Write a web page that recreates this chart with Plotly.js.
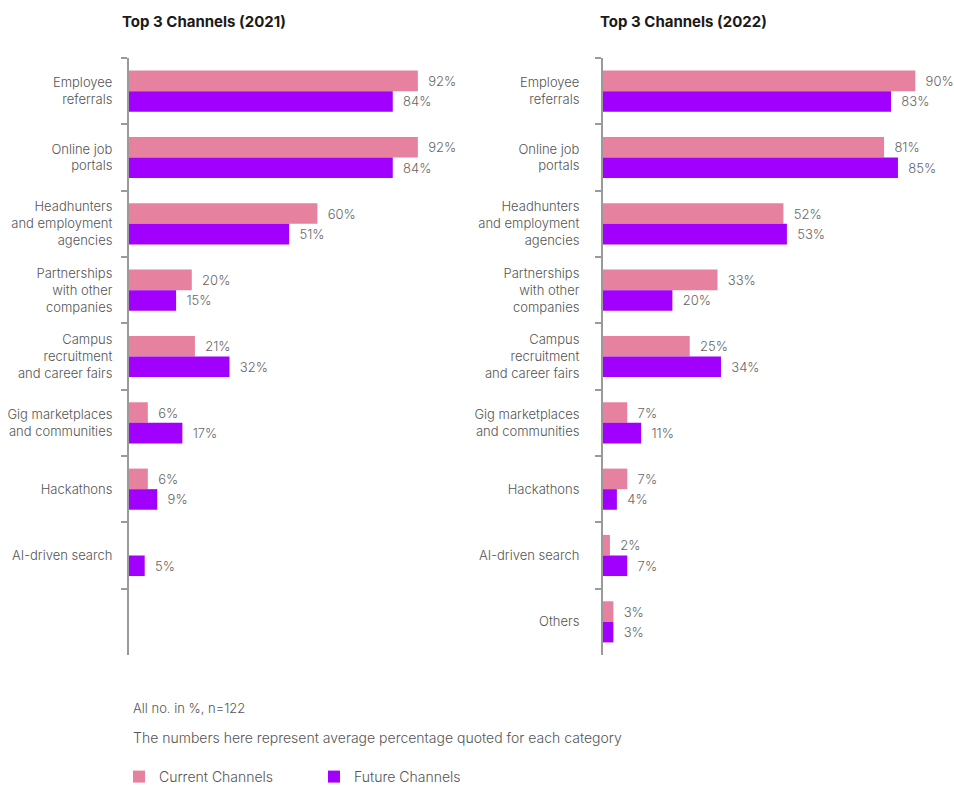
<!DOCTYPE html>
<html>
<head>
<meta charset="utf-8">
<script src="https://cdn.plot.ly/plotly-3.0.1.min.js"></script>
<style>html,body{margin:0;padding:0;background:#fff;}#chart{width:954px;height:785px;}</style>
</head>
<body>
<div id="chart"></div>
<script>
// ---- data ----
const categories2021 = [
  "Employee<br>referrals",
  "Online job<br>portals",
  "Headhunters<br>and employment<br>agencies",
  "Partnerships<br>with other<br>companies",
  "Campus<br>recruitment<br>and career fairs",
  "Gig marketplaces<br>and communities",
  "Hackathons",
  "AI-driven search"
];
const current2021 = [92, 92, 60, 20, 21, 6, 6, null];
const future2021  = [84, 84, 51, 15, 32, 17, 9, 5];

const categories2022 = [
  "Employee<br>referrals",
  "Online job<br>portals",
  "Headhunters<br>and employment<br>agencies",
  "Partnerships<br>with other<br>companies",
  "Campus<br>recruitment<br>and career fairs",
  "Gig marketplaces<br>and communities",
  "Hackathons",
  "AI-driven search",
  "Others"
];
const current2022 = [90, 81, 52, 33, 25, 7, 7, 2, 3];
const future2022  = [83, 85, 53, 20, 34, 11, 4, 7, 3];

const seriesNames = ["Current Channels", "Future Channels"];
const titles = ["Top 3 Channels (2021)", "Top 3 Channels (2022)"];
const notes = ["All no. in %, n=122", "The numbers here represent average percentage quoted for each category"];

// ---- styling ----
const PINK = "#e6829f";
const PURPLE = "#a100ff";
const FONT = "Inter, 'Open Sans', sans-serif";
const GREY = "#666666";

const W = 954, H = 785;
const M = {l: 0, r: 0, t: 58, b: 130};
const PH = H - M.t - M.b;

function bar(name, cats, vals, color, xa, ya, showlegend) {
  return {
    type: "bar", orientation: "h", name: name,
    y: cats, x: vals, xaxis: xa, yaxis: ya,
    marker: {color: color},
    texttemplate: "\u00a0\u00a0%{x}%",
    textposition: "outside",
    cliponaxis: false,
    textfont: {family: FONT, size: 13, color: GREY, weight: 300},
    showlegend: showlegend, legendgroup: name,
    hoverinfo: "skip"
  };
}

const data = [
  bar(seriesNames[0], categories2021, current2021, PINK, "x", "y", true),
  bar(seriesNames[1], categories2021, future2021, PURPLE, "x", "y", true),
  bar(seriesNames[0], categories2022, current2022, PINK, "x2", "y2", false),
  bar(seriesNames[1], categories2022, future2022, PURPLE, "x2", "y2", false)
];

function yax(cats, anchor, standoff) {
  return {
    type: "category", anchor: anchor,
    categoryorder: "array", categoryarray: cats,
    range: [8.5, -0.5],
    tickson: "boundaries", ticks: "outside", ticklen: 6, tickwidth: 2, tickcolor: "#9a9a9a",
    showline: true, linecolor: "#9a9a9a", linewidth: 2,
    showgrid: false, zeroline: false,
    ticklabelstandoff: standoff,
    tickfont: {family: FONT, size: 13, color: "#555555", weight: 300},
    fixedrange: true
  };
}

const layout = {
  width: W, height: H,
  margin: M,
  paper_bgcolor: "#fff", plot_bgcolor: "#fff",
  font: {family: FONT, color: GREY},
  barmode: "group", bargap: 0.38, bargroupgap: 0,
  xaxis:  {domain: [129 / W, 443 / W], range: [0, 100], visible: false, anchor: "y", fixedrange: true},
  xaxis2: {domain: [603 / W, 950 / W], range: [0, 100], visible: false, anchor: "y2", fixedrange: true},
  yaxis:  yax(categories2021.concat([" "]), "x", 12),
  yaxis2: yax(categories2022, "x2", 19),
  showlegend: true,
  legend: {
    orientation: "h", xref: "paper", x: 119 / W, xanchor: "left",
    yref: "container", y: 1 - 777 / H, yanchor: "middle",
    entrywidth: 150, traceorder: "normal",
    font: {family: FONT, size: 14, color: "#555555", weight: 300},
    bgcolor: "rgba(0,0,0,0)"
  },
  annotations: [
    {text: "<b>" + titles[0] + "</b>", xref: "paper", yref: "paper", x: 120 / W, y: 1 + (58 - 22) / PH,
     xanchor: "left", yanchor: "middle", showarrow: false, font: {family: FONT, size: 15, color: "#1a1a1a"}},
    {text: "<b>" + titles[1] + "</b>", xref: "paper", yref: "paper", x: 598 / W, y: 1 + (58 - 22) / PH,
     xanchor: "left", yanchor: "middle", showarrow: false, font: {family: FONT, size: 15, color: "#1a1a1a"}},
    {text: notes[0], xref: "paper", yref: "paper", x: 131 / W, y: -(708 - 655) / PH,
     xanchor: "left", yanchor: "middle", showarrow: false, font: {family: FONT, size: 13, color: "#555555", weight: 300}},
    {text: notes[1], xref: "paper", yref: "paper", x: 131 / W, y: -(738 - 655) / PH,
     xanchor: "left", yanchor: "middle", showarrow: false, font: {family: FONT, size: 14, color: "#555555", weight: 300}}
  ]
};

Plotly.newPlot("chart", data, layout, {displayModeBar: false, staticPlot: true});
</script>
</body>
</html>
